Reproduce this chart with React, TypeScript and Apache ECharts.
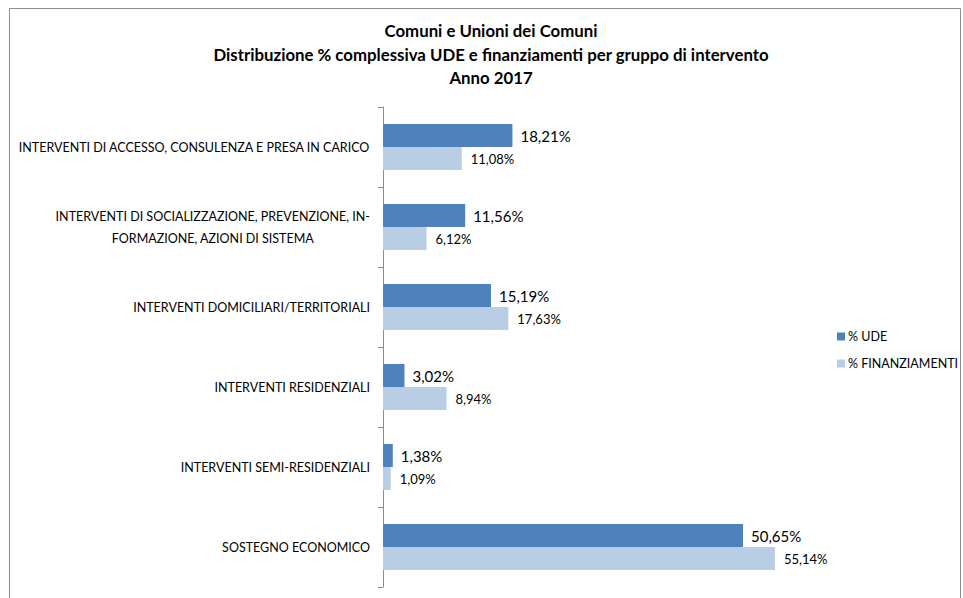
import React, { useEffect, useRef } from "react";
import * as echarts from "echarts";

const categories = [
  "INTERVENTI DI ACCESSO, CONSULENZA E PRESA IN CARICO",
  "INTERVENTI DI SOCIALIZZAZIONE, PREVENZIONE, IN-\nFORMAZIONE, AZIONI DI SISTEMA",
  "INTERVENTI DOMICILIARI/TERRITORIALI",
  "INTERVENTI RESIDENZIALI",
  "INTERVENTI SEMI-RESIDENZIALI",
  "SOSTEGNO ECONOMICO",
];
const udeValues = [18.21, 11.56, 15.19, 3.02, 1.38, 50.65];
const finValues = [11.08, 6.12, 17.63, 8.94, 1.09, 55.14];
const seriesNames = ["% UDE", "% FINANZIAMENTI"];
const titleLines = [
  "Comuni e Unioni dei Comuni",
  "Distribuzione % complessiva UDE e finanziamenti per gruppo di intervento",
  "Anno 2017",
];

const FONT = "Lato, 'Open Sans', sans-serif";
const fmt = (v: number) => v.toFixed(2).replace(".", ",") + "%";

export default function App() {
  const ref = useRef<HTMLDivElement>(null);
  useEffect(() => {
    if (!ref.current) return;
    const chart = echarts.init(ref.current, undefined, { renderer: "svg" });
    chart.setOption({
      animation: false,
      backgroundColor: "#ffffff",
      textStyle: { fontFamily: FONT },
      title: {
        text: titleLines.join("\n"),
        left: 491,
        textAlign: "center",
        top: 19,
        padding: 0,
        itemGap: 0,
        textStyle: {
          fontFamily: FONT,
          fontSize: 16.8,
          fontWeight: "bold",
          color: "#000000",
          lineHeight: 23.5,
        },
      },
      graphic: [
        {
          type: "rect",
          shape: { x: 9.5, y: 8.5, width: 951, height: 620 },
          style: { fill: "none", stroke: "#8c8c8c", lineWidth: 1 },
          silent: true,
        },
      ],
      legend: {
        orient: "vertical",
        left: 832,
        top: 325,
        itemWidth: 8,
        itemHeight: 8,
        itemGap: 14,
        icon: "rect",
        textStyle: { fontFamily: FONT, fontSize: 12.5, color: "#000000", padding: [0, 0, 0, -2] },
        data: seriesNames,
      },
      grid: { left: 383, top: 107, width: 426.5, height: 480 },
      xAxis: {
        type: "value",
        min: 0,
        max: 60,
        show: false,
      },
      yAxis: {
        type: "category",
        inverse: true,
        data: categories,
        axisLine: { lineStyle: { color: "#8c8c8c", width: 1 } },
        axisTick: { show: true, length: 5, lineStyle: { color: "#8c8c8c" } },
        axisLabel: {
          margin: 13,
          fontFamily: FONT,
          fontSize: 12.5,
          color: "#000000",
          lineHeight: 22,
          formatter: (v: string) =>
            v
              .split("\n")
              .map((l) => "{c|" + l + "}")
              .join("\n"),
          rich: {
            c: { align: "center", fontFamily: FONT, fontSize: 12.5, color: "#000000", lineHeight: 22 },
          },
        },
      },
      series: [
        {
          name: seriesNames[0],
          type: "bar",
          data: udeValues,
          barWidth: 23,
          barGap: "0%",
          itemStyle: { color: "#4f81bd" },
          label: {
            show: true,
            position: "right",
            distance: 8,
            formatter: (p: any) => fmt(p.value),
            fontFamily: FONT,
            fontSize: 15,
            color: "#000000",
          },
        },
        {
          name: seriesNames[1],
          type: "bar",
          data: finValues,
          barWidth: 23,
          barGap: "0%",
          itemStyle: { color: "#b9cde5" },
          label: {
            show: true,
            position: "right",
            distance: 9,
            formatter: (p: any) => fmt(p.value),
            fontFamily: FONT,
            fontSize: 13,
            color: "#000000",
          },
        },
      ],
    });
    return () => chart.dispose();
  }, []);
  return <div ref={ref} style={{ width: 963, height: 598, position: "absolute", left: 0, top: 0 }} />;
}
